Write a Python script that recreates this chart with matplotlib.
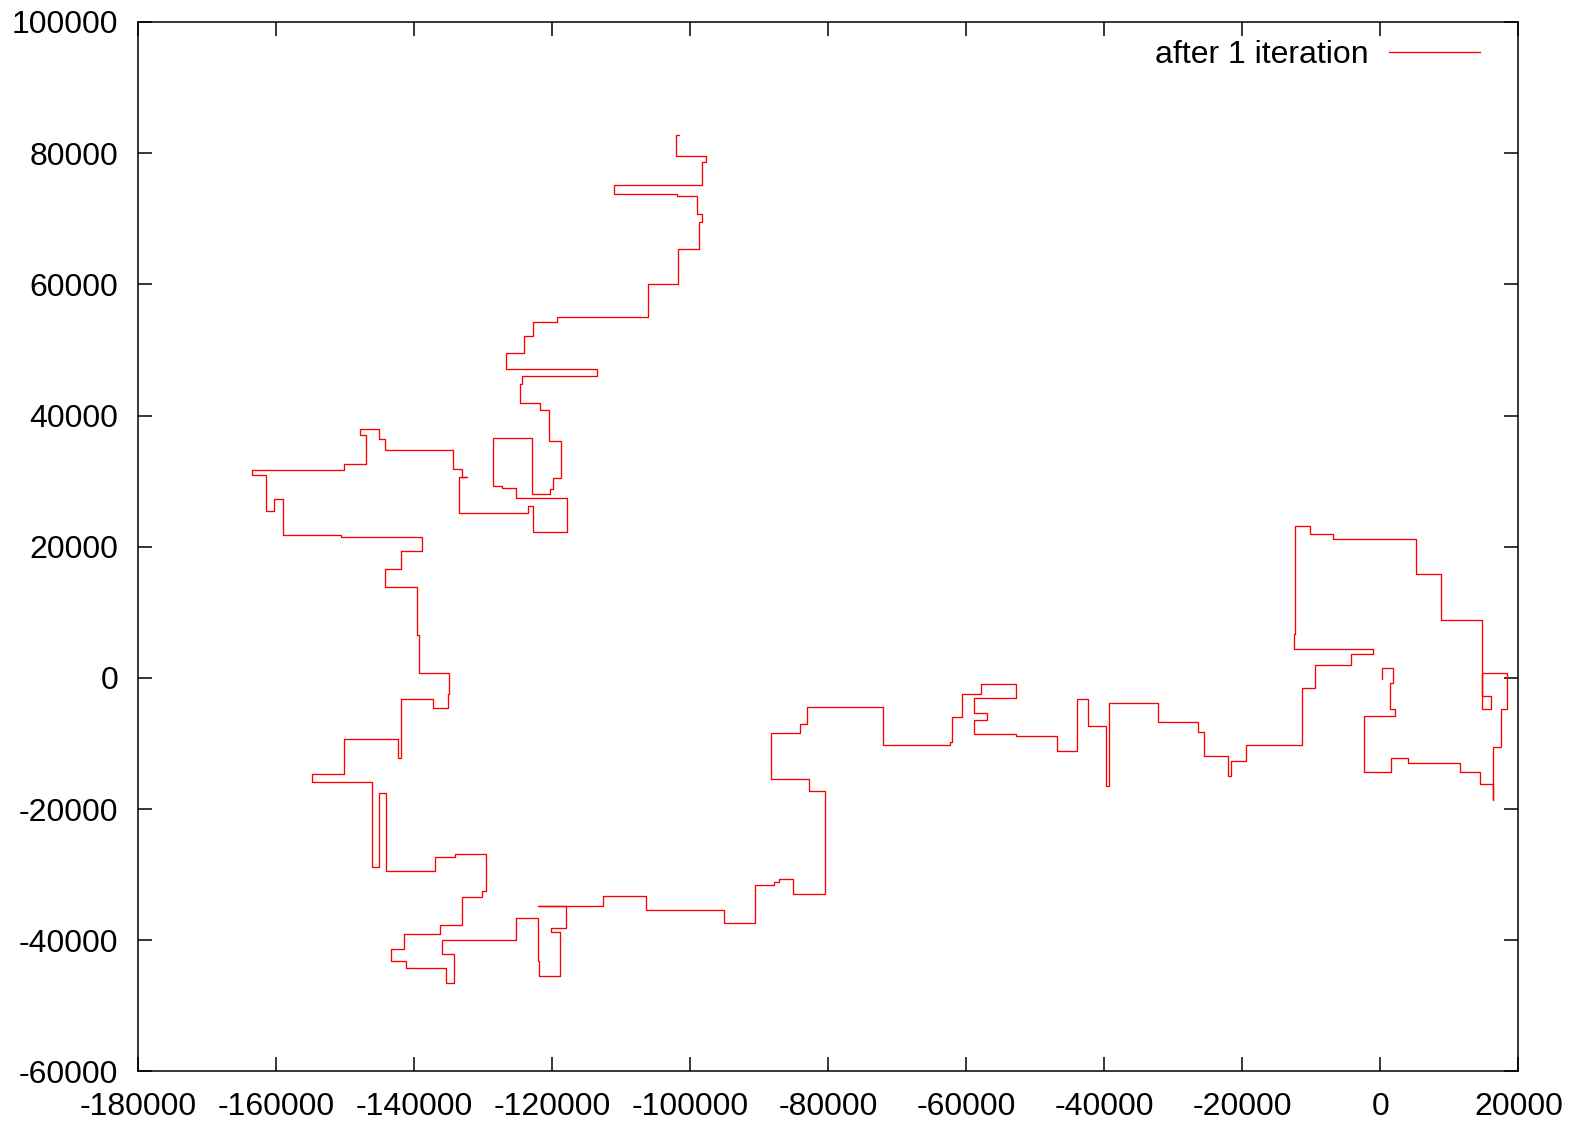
import matplotlib
matplotlib.use("Agg")
import matplotlib.pyplot as plt

# route coordinates (x, y) after the first iteration
route_x = [
    -101600, -102000, -102000, -97700, -97700, -98300, -98300, -111000, -111000, -101900,
    -101900, -99000, -99000, -98200, -98200, -98700, -98700, -101700, -101700, -106100,
    -106100, -119300, -119300, -122700, -122700, -124000, -124000, -126700, -126700, -113400,
    -113400, -124300, -124300, -124600, -124600, -121800, -121800, -120400, -120400, -118700,
    -118700, -119800, -119800, -120300, -120300, -122900, -122900, -128600, -128600, -127300,
    -127300, -125200, -125200, -117800, -117800, -122800, -122800, -123400, -123400, -133400,
    -133400, -132300, -133100, -133100, -134300, -134300, -144200, -144200, -145100, -145100,
    -147800, -147800, -146900, -146900, -150100, -150100, -163500, -163500, -161400, -161400,
    -160200, -160200, -158900, -158900, -150500, -150500, -138800, -138800, -141900, -141900,
    -144200, -144200, -139600, -139600, -139200, -139200, -134900, -134900, -135000, -135000,
    -137300, -137300, -141800, -141800, -142300, -142300, -150100, -150100, -154700, -154700,
    -146100, -146100, -145000, -145000, -144000, -144000, -136900, -136900, -134000, -134000,
    -129500, -129500, -130100, -130100, -133100, -133100, -136200, -136200, -141400, -141400,
    -143300, -143300, -141200, -141200, -135300, -135300, -134200, -134200, -135900, -135900,
    -125200, -125200, -122000, -122000, -121900, -121900, -118900, -118900, -120200, -120200,
    -118000, -118000, -122000, -118000, -112600, -112600, -106400, -106400, -95000, -95000,
    -90600, -90600, -87800, -87800, -87100, -87100, -85100, -85100, -80400, -80400,
    -82800, -82800, -88300, -88300, -84100, -84100, -83100, -83100, -72000, -72000,
    -62400, -62400, -62100, -62100, -60600, -60600, -57800, -57800, -52700, -52700,
    -58900, -58900, -56900, -56900, -58900, -58900, -52700, -52700, -46800, -46800,
    -44000, -44000, -42300, -42300, -39800, -39800, -39300, -39300, -32200, -32200,
    -26400, -26400, -25600, -25600, -22100, -22100, -21600, -21600, -19400, -19400,
    -11300, -11300, -9500, -9500, -4200, -4200, -1000, -1000, -12500, -12500,
    -12400, -12400, -10200, -10200, -6800, -6800, 5200, 5200, 8800, 8800,
    14800, 14800, 16100, 16100, 14800, 14800, 18400, 18400, 17500, 17500,
    16300, 16300, 16300, 14400, 14400, 11600, 11600, 4000, 4000, 1500,
    1500, -2300, -2300, 2100, 2100, 1400, 1400, 1900, 1900, 200,
    200,
]
route_y = [
    82800, 82800, 79500, 79500, 78600, 78600, 75100, 75100, 73800, 73800,
    73400, 73400, 70700, 70700, 69500, 69500, 65400, 65400, 60000, 60000,
    55000, 55000, 54300, 54300, 52200, 52200, 49600, 49600, 47100, 47100,
    46000, 46000, 44800, 44800, 41900, 41900, 40800, 40800, 36100, 36100,
    30500, 30500, 28800, 28800, 28000, 28000, 36600, 36600, 29300, 29300,
    29000, 29000, 27400, 27400, 22300, 22300, 26200, 26200, 25200, 25200,
    30600, 30600, 30600, 31800, 31800, 34800, 34800, 36400, 36400, 37900,
    37900, 37000, 37000, 32600, 32600, 31700, 31700, 30900, 30900, 25500,
    25500, 27200, 27200, 21800, 21800, 21500, 21500, 19300, 19300, 16600,
    16600, 13900, 13900, 6500, 6500, 700, 700, -2400, -2400, -4600,
    -4600, -3200, -3200, -12200, -12200, -9300, -9300, -14600, -14600, -15800,
    -15800, -28800, -28800, -17600, -17600, -29500, -29500, -27300, -27300, -26900,
    -26900, -32500, -32500, -33400, -33400, -37700, -37700, -39000, -39000, -41400,
    -41400, -43200, -43200, -44200, -44200, -46500, -46500, -42100, -42100, -40000,
    -40000, -36600, -36600, -43100, -43100, -45500, -45500, -38800, -38800, -38200,
    -38200, -34800, -34800, -34800, -34800, -33200, -33200, -35400, -35400, -37400,
    -37400, -31500, -31500, -31100, -31100, -30700, -30700, -32900, -32900, -17300,
    -17300, -15400, -15400, -8400, -8400, -7100, -7100, -4500, -4500, -10300,
    -10300, -9700, -9700, -6000, -6000, -2500, -2500, -1000, -1000, -3100,
    -3100, -5400, -5400, -6400, -6400, -8600, -8600, -8800, -8800, -11200,
    -11200, -3200, -3200, -7400, -7400, -16500, -16500, -3800, -3800, -6800,
    -6800, -8300, -8300, -11900, -11900, -15000, -15000, -12600, -12600, -10200,
    -10200, -1600, -1600, 1900, 1900, 3700, 3700, 4400, 4400, 6700,
    6700, 23200, 23200, 21900, 21900, 21100, 21100, 15800, 15800, 8800,
    8800, -2700, -2700, -4800, -4800, 700, 700, -4800, -4800, -10600,
    -10600, -18600, -16100, -16100, -14400, -14400, -12900, -12900, -12200, -12200,
    -14400, -14400, -5800, -5800, -4800, -4800, -800, -800, 1500, 1500,
    -100,
]

x_ticks = [-180000, -160000, -140000, -120000, -100000, -80000, -60000,
           -40000, -20000, 0, 20000]
y_ticks = [-60000, -40000, -20000, 0, 20000, 40000, 60000, 80000, 100000]

plt.rcParams['font.family'] = ['Liberation Sans', 'DejaVu Sans']

fig = plt.figure(figsize=(15.69, 11.21), dpi=100)
ax = fig.add_axes([0.0878, 0.0442, 0.8799, 0.9362])

ax.plot(route_x, route_y, color='red', lw=0.95, label='after 1 iteration')

ax.set_xlim(-180000, 20000)
ax.set_ylim(-60000, 100000)
ax.set_xticks(x_ticks)
ax.set_yticks(y_ticks)
ax.set_xticklabels([str(v) for v in x_ticks])
ax.set_yticklabels([str(v) for v in y_ticks])

ax.tick_params(direction='in', length=10, width=1.1, top=True, right=True,
               labelsize=23, colors='black')
ax.tick_params(axis='x', pad=15)
ax.tick_params(axis='y', pad=14)
for s in ax.spines.values():
    s.set_linewidth(1.1)

leg = ax.legend(loc='upper right', bbox_to_anchor=(0.9725, 0.983),
                frameon=False, markerfirst=False, fontsize=23,
                handlelength=2.85, handletextpad=0.65,
                borderpad=0, borderaxespad=0)

fig.savefig('out.png', dpi=100)
